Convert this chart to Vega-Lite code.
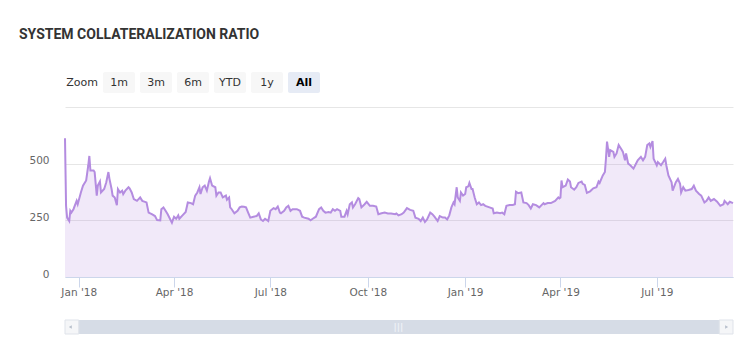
{
  "$schema": "https://vega.github.io/schema/vega-lite/v6.json",
  "background": "white",
  "padding": {"left": 19, "top": 28, "right": 10, "bottom": 10},
  "title": {"text": "SYSTEM COLLATERALIZATION RATIO", "anchor": "start", "frame": "bounds", "font": "Roboto", "fontSize": 14, "fontWeight": "bold", "color": "#333333", "offset": 30},
  "config": {
    "view": {"stroke": null},
    "axisY": {"minExtent": 46, "maxExtent": 46}
  },
  "spacing": 14,
  "datasets": {
    "series": [
      {"date": "2017-12-19", "value": 612}, {"date": "2017-12-20", "value": 314}, {"date": "2017-12-21", "value": 262},
      {"date": "2017-12-23", "value": 247}, {"date": "2017-12-24", "value": 292}, {"date": "2017-12-25", "value": 284},
      {"date": "2017-12-27", "value": 299}, {"date": "2017-12-30", "value": 336}, {"date": "2017-12-31", "value": 321},
      {"date": "2018-01-03", "value": 373}, {"date": "2018-01-05", "value": 403}, {"date": "2018-01-08", "value": 426},
      {"date": "2018-01-10", "value": 493}, {"date": "2018-01-11", "value": 534}, {"date": "2018-01-12", "value": 470},
      {"date": "2018-01-15", "value": 470}, {"date": "2018-01-16", "value": 463}, {"date": "2018-01-18", "value": 359},
      {"date": "2018-01-19", "value": 403}, {"date": "2018-01-21", "value": 421}, {"date": "2018-01-22", "value": 373},
      {"date": "2018-01-25", "value": 388}, {"date": "2018-01-27", "value": 418}, {"date": "2018-01-29", "value": 463},
      {"date": "2018-01-30", "value": 433}, {"date": "2018-02-01", "value": 388}, {"date": "2018-02-02", "value": 359},
      {"date": "2018-02-04", "value": 351}, {"date": "2018-02-06", "value": 317}, {"date": "2018-02-07", "value": 388},
      {"date": "2018-02-09", "value": 373}, {"date": "2018-02-11", "value": 381}, {"date": "2018-02-12", "value": 366},
      {"date": "2018-02-14", "value": 381}, {"date": "2018-02-17", "value": 396}, {"date": "2018-02-18", "value": 391},
      {"date": "2018-02-20", "value": 373}, {"date": "2018-02-22", "value": 344}, {"date": "2018-02-25", "value": 336},
      {"date": "2018-02-28", "value": 351}, {"date": "2018-03-02", "value": 336}, {"date": "2018-03-06", "value": 329},
      {"date": "2018-03-08", "value": 284}, {"date": "2018-03-11", "value": 277}, {"date": "2018-03-14", "value": 269},
      {"date": "2018-03-16", "value": 251}, {"date": "2018-03-19", "value": 250}, {"date": "2018-03-20", "value": 299},
      {"date": "2018-03-22", "value": 307}, {"date": "2018-03-24", "value": 292}, {"date": "2018-03-26", "value": 277},
      {"date": "2018-03-30", "value": 240}, {"date": "2018-04-01", "value": 266}, {"date": "2018-04-03", "value": 257},
      {"date": "2018-04-05", "value": 272}, {"date": "2018-04-06", "value": 257}, {"date": "2018-04-09", "value": 272},
      {"date": "2018-04-12", "value": 287}, {"date": "2018-04-14", "value": 329}, {"date": "2018-04-17", "value": 326},
      {"date": "2018-04-19", "value": 321}, {"date": "2018-04-21", "value": 359}, {"date": "2018-04-23", "value": 373},
      {"date": "2018-04-25", "value": 396}, {"date": "2018-04-26", "value": 366}, {"date": "2018-04-28", "value": 396},
      {"date": "2018-04-30", "value": 403}, {"date": "2018-05-02", "value": 381}, {"date": "2018-05-04", "value": 421},
      {"date": "2018-05-05", "value": 436}, {"date": "2018-05-07", "value": 403}, {"date": "2018-05-10", "value": 396},
      {"date": "2018-05-11", "value": 359}, {"date": "2018-05-13", "value": 373}, {"date": "2018-05-15", "value": 373},
      {"date": "2018-05-17", "value": 351}, {"date": "2018-05-20", "value": 359}, {"date": "2018-05-21", "value": 341},
      {"date": "2018-05-23", "value": 351}, {"date": "2018-05-24", "value": 307}, {"date": "2018-05-25", "value": 302},
      {"date": "2018-05-28", "value": 281}, {"date": "2018-05-31", "value": 292}, {"date": "2018-06-02", "value": 307},
      {"date": "2018-06-04", "value": 311}, {"date": "2018-06-06", "value": 310}, {"date": "2018-06-08", "value": 307},
      {"date": "2018-06-10", "value": 284}, {"date": "2018-06-12", "value": 262}, {"date": "2018-06-15", "value": 266},
      {"date": "2018-06-18", "value": 269}, {"date": "2018-06-20", "value": 281}, {"date": "2018-06-22", "value": 254},
      {"date": "2018-06-24", "value": 247}, {"date": "2018-06-26", "value": 257}, {"date": "2018-06-29", "value": 247},
      {"date": "2018-07-01", "value": 292}, {"date": "2018-07-04", "value": 304}, {"date": "2018-07-06", "value": 299},
      {"date": "2018-07-08", "value": 311}, {"date": "2018-07-10", "value": 284}, {"date": "2018-07-11", "value": 281},
      {"date": "2018-07-14", "value": 292}, {"date": "2018-07-16", "value": 307}, {"date": "2018-07-18", "value": 314},
      {"date": "2018-07-20", "value": 292}, {"date": "2018-07-22", "value": 299}, {"date": "2018-07-26", "value": 299},
      {"date": "2018-07-29", "value": 292}, {"date": "2018-07-31", "value": 266}, {"date": "2018-08-02", "value": 262},
      {"date": "2018-08-06", "value": 257}, {"date": "2018-08-08", "value": 250}, {"date": "2018-08-10", "value": 257},
      {"date": "2018-08-13", "value": 266}, {"date": "2018-08-16", "value": 299}, {"date": "2018-08-18", "value": 307},
      {"date": "2018-08-20", "value": 292}, {"date": "2018-08-22", "value": 284}, {"date": "2018-08-25", "value": 287},
      {"date": "2018-08-27", "value": 284}, {"date": "2018-08-29", "value": 299}, {"date": "2018-08-31", "value": 292},
      {"date": "2018-09-02", "value": 299}, {"date": "2018-09-05", "value": 292}, {"date": "2018-09-06", "value": 266},
      {"date": "2018-09-09", "value": 266}, {"date": "2018-09-11", "value": 292}, {"date": "2018-09-12", "value": 277},
      {"date": "2018-09-14", "value": 321}, {"date": "2018-09-16", "value": 329}, {"date": "2018-09-17", "value": 307},
      {"date": "2018-09-19", "value": 321}, {"date": "2018-09-22", "value": 348}, {"date": "2018-09-23", "value": 344},
      {"date": "2018-09-25", "value": 307}, {"date": "2018-09-28", "value": 321}, {"date": "2018-09-30", "value": 332},
      {"date": "2018-10-01", "value": 326}, {"date": "2018-10-03", "value": 314}, {"date": "2018-10-06", "value": 314},
      {"date": "2018-10-09", "value": 311}, {"date": "2018-10-11", "value": 277}, {"date": "2018-10-14", "value": 281},
      {"date": "2018-10-17", "value": 284}, {"date": "2018-10-20", "value": 280}, {"date": "2018-10-23", "value": 280},
      {"date": "2018-10-27", "value": 277}, {"date": "2018-10-28", "value": 280}, {"date": "2018-10-30", "value": 272},
      {"date": "2018-11-02", "value": 277}, {"date": "2018-11-04", "value": 284}, {"date": "2018-11-07", "value": 304},
      {"date": "2018-11-10", "value": 296}, {"date": "2018-11-13", "value": 292}, {"date": "2018-11-15", "value": 262},
      {"date": "2018-11-18", "value": 257}, {"date": "2018-11-20", "value": 247}, {"date": "2018-11-22", "value": 262},
      {"date": "2018-11-24", "value": 243}, {"date": "2018-11-26", "value": 254}, {"date": "2018-11-29", "value": 284},
      {"date": "2018-12-01", "value": 277}, {"date": "2018-12-03", "value": 266}, {"date": "2018-12-06", "value": 247},
      {"date": "2018-12-08", "value": 269}, {"date": "2018-12-11", "value": 262}, {"date": "2018-12-13", "value": 262},
      {"date": "2018-12-15", "value": 254}, {"date": "2018-12-17", "value": 272}, {"date": "2018-12-19", "value": 307},
      {"date": "2018-12-21", "value": 329}, {"date": "2018-12-22", "value": 321}, {"date": "2018-12-24", "value": 396},
      {"date": "2018-12-25", "value": 351}, {"date": "2018-12-27", "value": 336}, {"date": "2018-12-28", "value": 373},
      {"date": "2018-12-30", "value": 359}, {"date": "2019-01-01", "value": 366}, {"date": "2019-01-02", "value": 396},
      {"date": "2019-01-04", "value": 400}, {"date": "2019-01-05", "value": 415}, {"date": "2019-01-07", "value": 388},
      {"date": "2019-01-08", "value": 388}, {"date": "2019-01-10", "value": 351}, {"date": "2019-01-12", "value": 321},
      {"date": "2019-01-14", "value": 329}, {"date": "2019-01-16", "value": 317}, {"date": "2019-01-18", "value": 321},
      {"date": "2019-01-20", "value": 314}, {"date": "2019-01-24", "value": 307}, {"date": "2019-01-27", "value": 302},
      {"date": "2019-01-28", "value": 281}, {"date": "2019-01-31", "value": 284}, {"date": "2019-02-03", "value": 281},
      {"date": "2019-02-05", "value": 284}, {"date": "2019-02-07", "value": 277}, {"date": "2019-02-09", "value": 314},
      {"date": "2019-02-12", "value": 318}, {"date": "2019-02-15", "value": 318}, {"date": "2019-02-17", "value": 321},
      {"date": "2019-02-18", "value": 376}, {"date": "2019-02-20", "value": 370}, {"date": "2019-02-23", "value": 373},
      {"date": "2019-02-25", "value": 329}, {"date": "2019-02-28", "value": 326}, {"date": "2019-03-02", "value": 317},
      {"date": "2019-03-04", "value": 302}, {"date": "2019-03-06", "value": 321}, {"date": "2019-03-09", "value": 317},
      {"date": "2019-03-12", "value": 307}, {"date": "2019-03-16", "value": 326}, {"date": "2019-03-17", "value": 321},
      {"date": "2019-03-20", "value": 326}, {"date": "2019-03-23", "value": 326}, {"date": "2019-03-27", "value": 336},
      {"date": "2019-03-30", "value": 351}, {"date": "2019-03-31", "value": 347}, {"date": "2019-04-01", "value": 351},
      {"date": "2019-04-02", "value": 426}, {"date": "2019-04-03", "value": 396}, {"date": "2019-04-06", "value": 403},
      {"date": "2019-04-08", "value": 430}, {"date": "2019-04-10", "value": 421}, {"date": "2019-04-11", "value": 396},
      {"date": "2019-04-14", "value": 385}, {"date": "2019-04-16", "value": 396}, {"date": "2019-04-18", "value": 415},
      {"date": "2019-04-21", "value": 421}, {"date": "2019-04-22", "value": 411}, {"date": "2019-04-24", "value": 406},
      {"date": "2019-04-26", "value": 371}, {"date": "2019-04-29", "value": 378}, {"date": "2019-05-02", "value": 391},
      {"date": "2019-05-05", "value": 396}, {"date": "2019-05-07", "value": 421}, {"date": "2019-05-08", "value": 415},
      {"date": "2019-05-11", "value": 448}, {"date": "2019-05-13", "value": 463}, {"date": "2019-05-14", "value": 522},
      {"date": "2019-05-15", "value": 597}, {"date": "2019-05-17", "value": 530}, {"date": "2019-05-18", "value": 560},
      {"date": "2019-05-21", "value": 552}, {"date": "2019-05-22", "value": 530}, {"date": "2019-05-24", "value": 545},
      {"date": "2019-05-26", "value": 582}, {"date": "2019-05-29", "value": 560}, {"date": "2019-05-30", "value": 552},
      {"date": "2019-06-01", "value": 515}, {"date": "2019-06-02", "value": 545}, {"date": "2019-06-04", "value": 500},
      {"date": "2019-06-06", "value": 493}, {"date": "2019-06-09", "value": 478}, {"date": "2019-06-11", "value": 496},
      {"date": "2019-06-13", "value": 515}, {"date": "2019-06-16", "value": 530}, {"date": "2019-06-18", "value": 515},
      {"date": "2019-06-20", "value": 530}, {"date": "2019-06-22", "value": 582}, {"date": "2019-06-24", "value": 589},
      {"date": "2019-06-25", "value": 574}, {"date": "2019-06-27", "value": 600}, {"date": "2019-06-28", "value": 522},
      {"date": "2019-07-01", "value": 493}, {"date": "2019-07-02", "value": 507}, {"date": "2019-07-05", "value": 493},
      {"date": "2019-07-07", "value": 507}, {"date": "2019-07-09", "value": 522}, {"date": "2019-07-10", "value": 493},
      {"date": "2019-07-12", "value": 448}, {"date": "2019-07-15", "value": 418}, {"date": "2019-07-16", "value": 381},
      {"date": "2019-07-19", "value": 418}, {"date": "2019-07-21", "value": 433}, {"date": "2019-07-23", "value": 411},
      {"date": "2019-07-24", "value": 373}, {"date": "2019-07-26", "value": 396}, {"date": "2019-07-28", "value": 381},
      {"date": "2019-07-31", "value": 384}, {"date": "2019-08-03", "value": 388}, {"date": "2019-08-05", "value": 403},
      {"date": "2019-08-07", "value": 381}, {"date": "2019-08-10", "value": 366}, {"date": "2019-08-12", "value": 359},
      {"date": "2019-08-15", "value": 329}, {"date": "2019-08-17", "value": 336}, {"date": "2019-08-19", "value": 351},
      {"date": "2019-08-21", "value": 336}, {"date": "2019-08-24", "value": 344}, {"date": "2019-08-27", "value": 332},
      {"date": "2019-08-30", "value": 314}, {"date": "2019-09-02", "value": 321}, {"date": "2019-09-03", "value": 336},
      {"date": "2019-09-06", "value": 321}, {"date": "2019-09-08", "value": 332}, {"date": "2019-09-11", "value": 326}
    ],
    "buttons": [
      {"label": "Zoom", "kind": "label"},
      {"label": "1m", "kind": "button"},
      {"label": "3m", "kind": "button"},
      {"label": "6m", "kind": "button"},
      {"label": "YTD", "kind": "button"},
      {"label": "1y", "kind": "button"},
      {"label": "All", "kind": "selected"}
    ],
    "scroll": [
      {"part": "track", "start": "2017-12-19", "end": "2019-09-11"},
      {"part": "button", "start": "2017-12-19", "end": "2018-01-01"},
      {"part": "button", "start": "2019-08-29", "end": "2019-09-11"},
      {"part": "grip", "start": "2018-10-30"},
      {"part": "arrowL", "start": "2017-12-24"},
      {"part": "arrowR", "start": "2019-09-05"}
    ]
  },
  "vconcat": [
    {
      "width": 256,
      "height": 21,
      "data": {"name": "buttons"},
      "encoding": {
        "x": {"field": "label", "type": "nominal", "sort": null,
              "scale": {"domain": ["Zoom", "1m", "3m", "6m", "YTD", "1y", "All"], "paddingInner": 0.1351, "paddingOuter": 0.027},
              "axis": null},
        "y": {"datum": "zoom", "type": "nominal", "scale": {"paddingInner": 0, "paddingOuter": 0},
              "axis": {"labels": false, "ticks": false, "domain": false, "grid": false, "title": null}}
      },
      "layer": [
        {
          "transform": [{"filter": "datum.kind != 'label'"}],
          "mark": {"type": "rect", "cornerRadius": 2},
          "encoding": {
            "color": {"field": "kind", "type": "nominal", "scale": {"domain": ["button", "selected"], "range": ["#f7f7f7", "#e6ebf5"]}, "legend": null}
          }
        },
        {
          "transform": [{"filter": "datum.kind != 'selected'"}],
          "mark": {"type": "text", "font": "DejaVu Sans", "fontSize": 11, "color": "#333333"},
          "encoding": {"text": {"field": "label"}}
        },
        {
          "transform": [{"filter": "datum.kind == 'selected'"}],
          "mark": {"type": "text", "font": "DejaVu Sans", "fontSize": 11, "fontWeight": "bold", "color": "#000000"},
          "encoding": {"text": {"field": "label"}}
        }
      ]
    },
    {
      "width": 668,
      "height": 170,
      "data": {"name": "series"},
      "encoding": {
        "x": {"field": "date", "type": "temporal",
              "scale": {"type": "utc", "domain": [{"year": 2017, "month": 12, "date": 19, "utc": true}, {"year": 2019, "month": 9, "date": 11, "utc": true}]},
              "axis": {
                "values": [
                  {"year": 2018, "month": 1, "date": 1, "utc": true},
                  {"year": 2018, "month": 4, "date": 1, "utc": true},
                  {"year": 2018, "month": 7, "date": 1, "utc": true},
                  {"year": 2018, "month": 10, "date": 1, "utc": true},
                  {"year": 2019, "month": 1, "date": 1, "utc": true},
                  {"year": 2019, "month": 4, "date": 1, "utc": true},
                  {"year": 2019, "month": 7, "date": 1, "utc": true}
                ],
                "format": "%b '%y",
                "title": null,
                "grid": false,
                "labelFont": "DejaVu Sans",
                "labelFontSize": 10.5,
                "labelColor": "#666666",
                "labelPadding": 0,
                "labelFlush": false,
                "tickSize": 10,
                "tickColor": "#ccd6eb",
                "domainColor": "#ccd6eb",
                "minExtent": 28
              }},
        "y": {"field": "value", "type": "quantitative",
              "scale": {"domain": [0, 750]},
              "axis": {
                "values": [0, 250, 500, 750],
                "labelExpr": "datum.value >= 750 ? '' : datum.label",
                "title": null,
                "ticks": false,
                "domain": false,
                "gridColor": "#e6e6e6",
                "labelPadding": 16,
                "labelFont": "DejaVu Sans",
                "labelFontSize": 10.5,
                "labelColor": "#666666",
                "labelBaseline": "alphabetic"
              }}
      },
      "layer": [
        {"mark": {"type": "area", "color": "#b48ce0", "opacity": 0.19}},
        {"mark": {"type": "line", "color": "#b48ce0", "strokeWidth": 2}}
      ]
    },
    {
      "width": 668,
      "height": 14,
      "data": {"name": "scroll"},
      "encoding": {
        "x": {"field": "start", "type": "temporal",
              "scale": {"type": "utc", "domain": [{"year": 2017, "month": 12, "date": 19, "utc": true}, {"year": 2019, "month": 9, "date": 11, "utc": true}]},
              "axis": null},
        "y": {"datum": "bar", "type": "nominal", "scale": {"paddingInner": 0, "paddingOuter": 0},
              "axis": {"labels": false, "ticks": false, "domain": false, "grid": false, "title": null}}
      },
      "layer": [
        {
          "transform": [{"filter": "datum.part == 'track'"}],
          "mark": {"type": "rect", "color": "#d6dce6"},
          "encoding": {"x2": {"field": "end"}}
        },
        {
          "transform": [{"filter": "datum.part == 'button'"}],
          "mark": {"type": "rect", "color": "#f5f6f8", "stroke": "#dfe3ea", "strokeWidth": 1},
          "encoding": {"x2": {"field": "end"}}
        },
        {
          "transform": [{"filter": "datum.part == 'grip'"}],
          "mark": {"type": "text", "text": "|||", "font": "DejaVu Sans", "fontSize": 9, "fontWeight": "bold", "color": "#eef1f6"}
        },
        {
          "transform": [{"filter": "datum.part == 'arrowL'"}],
          "mark": {"type": "point", "shape": "triangle-left", "filled": true, "size": 12, "color": "#b8c0cc", "opacity": 1}
        },
        {
          "transform": [{"filter": "datum.part == 'arrowR'"}],
          "mark": {"type": "point", "shape": "triangle-right", "filled": true, "size": 12, "color": "#b8c0cc", "opacity": 1}
        }
      ]
    }
  ]
}
